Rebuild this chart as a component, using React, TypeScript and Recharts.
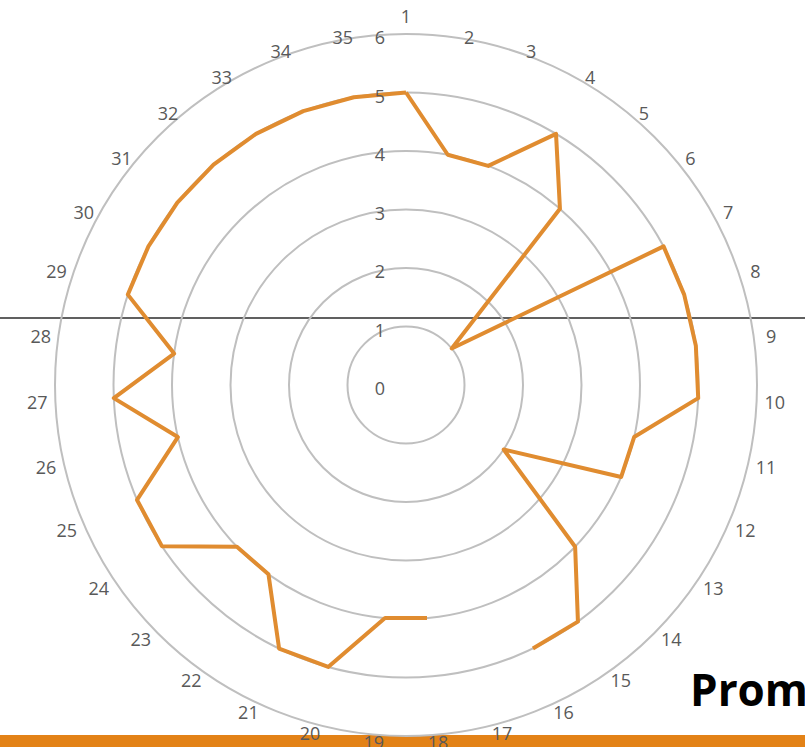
import { RadarChart, PolarGrid, PolarAngleAxis, PolarRadiusAxis, Radar } from "recharts"

// categories 1..35, one value each (17 has no value, the line breaks there)
const categories = Array.from({ length: 35 }, (_, i) => String(i + 1))
const values: (number | null)[] = [
  5, 4, 4, 5, 4, 1, 5, 5, 5, 5, 4, 4, 2, 4, 5, 5, null, 4, 4, 5, 5, 4, 4, 5, 5, 4, 5, 4, 5, 5, 5, 5, 5, 5, 5,
]
const radiusTicks = [0, 1, 2, 3, 4, 5, 6]

const data = categories.map((c, i) => ({ cat: c, v: values[i] }))

const CX = 406
const CY = 385
const R = 351
const LABEL = "#595959"
const LINE = "#E08C30"
const FONT = "'Open Sans', 'Liberation Sans', sans-serif"

function AngleTick(props: any) {
  const { payload } = props
  const deg = 90 - payload.coordinate // clockwise from top
  const rad = (deg * Math.PI) / 180
  const s = Math.sin(rad)
  const c = Math.cos(rad)
  // excel packs the labels tight to the ring, the top one gets pushed out
  const off = payload.value === "1" ? 18 : 3 + 15 * Math.abs(s) - 3 * c
  const x = CX + (R + off) * s
  const y = CY - (R + off) * c
  return (
    <text x={x} y={y} textAnchor="middle" dominantBaseline="central" fill={LABEL} fontSize={18} fontFamily={FONT}>
      {payload.value}
    </text>
  )
}

function RadiusTick(props: any) {
  const { x, y, payload } = props
  return (
    <text x={x - 26} y={y + 3} textAnchor="middle" dominantBaseline="central" fill={LABEL} fontSize={18} fontFamily={FONT}>
      {payload.value}
    </text>
  )
}

// recharts pulls missing values to the centre, so break the outline there ourselves
function GapLine(props: any) {
  const pts: any[] = props.points || []
  const ok = (p: any) => p && p.payload && p.payload.v != null
  const segs: any[][] = [[]]
  pts.forEach((p) => {
    if (ok(p)) segs[segs.length - 1].push(p)
    else if (segs[segs.length - 1].length) segs.push([])
  })
  if (ok(pts[0])) segs[segs.length - 1].push(pts[0])
  const d = segs
    .filter((s) => s.length)
    .map((s) => s.map((p, i) => `${i ? "L" : "M"}${p.x},${p.y}`).join(""))
    .join("")
  return <path d={d} fill="none" stroke={LINE} strokeWidth={4} strokeLinejoin="round" />
}

export default function App() {
  return (
    <div style={{ position: "absolute", left: 0, top: 0, width: 805, height: 747, overflow: "hidden", background: "#fff" }}>
      {/* slide bits behind the chart */}
      <div style={{ position: "absolute", left: 0, top: 735, width: 805, height: 12, background: "#E38217" }} />
      <div style={{ position: "absolute", left: 0, top: 317, width: 805, height: 1.5, background: "#606060" }} />
      <div style={{ position: "absolute", left: 0, top: 0 }}>
        <RadarChart width={805} height={747} data={data} cx={CX} cy={CY} outerRadius={R} innerRadius={0} margin={{ top: 0, right: 0, bottom: 0, left: 0 }}>
          <PolarGrid gridType="circle" radialLines={false} stroke="#BFBFBF" strokeWidth={2} />
          <PolarAngleAxis dataKey="cat" tick={<AngleTick />} tickLine={false} axisLine={false} />
          <PolarRadiusAxis
            angle={90}
            domain={[0, 6]}
            ticks={radiusTicks as any}
            tickCount={7}
            tick={<RadiusTick />}
            axisLine={false}
            tickLine={false}
          />
          <Radar
            dataKey="v"
            stroke={LINE}
            strokeWidth={4}
            fill="none"
            fillOpacity={0}
            dot={false}
            shape={<GapLine />}
            isAnimationActive={false}
          />
        </RadarChart>
      </div>
      <div
        style={{
          position: "absolute",
          left: 690,
          top: 659,
          fontFamily: FONT,
          fontWeight: 700,
          fontSize: 44,
          lineHeight: "60px",
          color: "#000",
          whiteSpace: "nowrap",
        }}
      >
        Prom
      </div>
    </div>
  )
}
